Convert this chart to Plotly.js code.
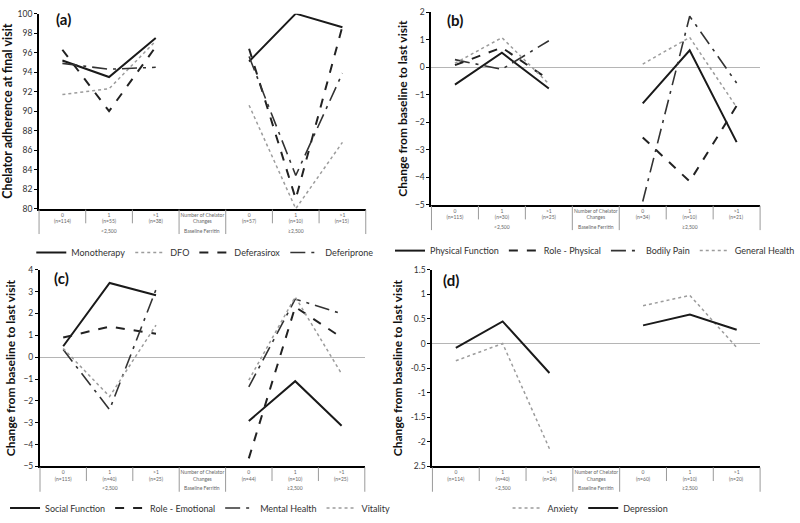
<!DOCTYPE html>
<html><head><meta charset="utf-8">
<script src="https://cdn.plot.ly/plotly-3.0.1.min.js"></script>
<style>html,body{margin:0;padding:0;background:#fff}#chart{width:800px;height:523px}</style>
</head><body><div id="chart"></div>
<script>
// ---------- categories (tick labels) ----------
// (a trailing space keeps repeated labels distinct as categories; it is not drawn)
const catsA = ["0<br>(n=114)","1<br>(n=55)","&gt;1<br>(n=38)","Number of Chelator<br>Changes","0<br>(n=57)","1<br>(n=10)","&gt;1<br>(n=15) "];
const catsB = ["0<br>(n=115)","1<br>(n=30)","&gt;1<br>(n=25)","Number of Chelator<br>Changes","0<br>(n=34)","1<br>(n=10)","&gt;1<br>(n=21) "];
const catsC = ["0<br>(n=115)","1<br>(n=40)","&gt;1<br>(n=25)","Number of Chelator<br>Changes","0<br>(n=44)","1<br>(n=10)","&gt;1<br>(n=25) "];
const catsD = ["0<br>(n=114)","1<br>(n=40)","&gt;1<br>(n=24)","Number of Chelator<br>Changes","0<br>(n=60)","1<br>(n=10)","&gt;1<br>(n=20) "];
const groupLabels = ["&lt;2,500","Baseline Ferritin","≥2,500"];
const groupStart = [0,3,4];
const groupEnd = [2,3,6];

// ---------- panel (a) ----------
const monotherapy = [95.2, 93.5, 97.5, null, 95.1, 100.0, 98.6];
const dfo         = [91.7, 92.3, 97.2, null, 90.6, 80.0, 86.8];
const deferasirox = [96.3, 90.0, 96.6, null, 96.4, 81.0, 98.7];
const deferiprone = [94.9, 94.3, 94.5, null, 95.6, 83.4, 93.9];
// ---------- panel (b) ----------
const physicalFunction = [-0.63, 0.53, -0.77, null, -1.31, 0.62, -2.72];
const rolePhysical     = [0.08, 0.72, -0.45, null, -2.55, -4.15, -1.40];
const bodilyPain       = [0.28, -0.07, 0.97, null, -4.88, 1.86, -0.57];
const generalHealth    = [0.15, 1.08, -0.60, null, 0.12, 1.09, -1.45];
// ---------- panel (c) ----------
const socialFunction = [0.50, 3.40, 2.84, null, -2.92, -1.10, -3.14];
const roleEmotional  = [0.90, 1.40, 1.07, null, -4.63, 2.30, 0.90];
const mentalHealth   = [0.35, -2.40, 3.10, null, -1.36, 2.66, 1.99];
const vitality       = [0.40, -1.80, 1.47, null, -1.05, 2.76, -0.76];
// ---------- panel (d) ----------
const anxiety    = [-0.35, 0.00, -2.14, null, 0.77, 0.98, -0.08];
const depression = [-0.09, 0.45, -0.60, null, 0.37, 0.59, 0.28];
const dTickVals = [1.5, 1, 0.5, 0, -0.5, -1, -1.5, -2, -2.5];
const dTickText = ["1.5","1","0.5","0","-0.5","-1","-1.5","-2","2.5"];

const FONT = "Lato, 'Open Sans', sans-serif";
const S = {
  solid:  {color:'#1a1a1a', width:2,   dash:'solid'},
  dot:    {color:'#9c9c9c', width:1.5, dash:'dot'},
  dash:   {color:'#222222', width:2,   dash:'dash'},
  dashdot:{color:'#333333', width:1.6, dash:'longdashdot'}
};

const panels = [
  {id:'', cats:catsA, label:'(a)', title:'Chelator adherence at final visit', titleSize:12.5,
   xd:[41/800, 384/800], yd:[1-214/523, 1-14/523], range:[80,100], dtick:2, zero:false,
   labelPos:[67,19], legendPos:[215,259],
   series:[['Monotherapy',monotherapy,S.solid],['DFO',dfo,S.dot],['Deferasirox',deferasirox,S.dash],['Deferiprone',deferiprone,S.dashdot]]},
  {id:'2', cats:catsB, label:'(b)', title:'Change from baseline to last visit', titleSize:12,
   xd:[453/800, 798/800], yd:[1-210/523, 1-12.7/523], range:[-5,2], dtick:1, zero:true,
   labelPos:[478,20], legendPos:[625,257],
   series:[['Physical Function',physicalFunction,S.solid],['Role - Physical',rolePhysical,S.dash],['Bodily Pain',bodilyPain,S.dashdot],['General Health',generalHealth,S.dot]]},
  {id:'3', cats:catsC, label:'(c)', title:'Change from baseline to last visit', titleSize:12,
   xd:[42/800, 383/800], yd:[1-478.3/523, 1-276.7/523], range:[-5,4], dtick:1, zero:true,
   labelPos:[65,285], legendPos:[210,521],
   series:[['Social Function',socialFunction,S.solid],['Role - Emotional',roleEmotional,S.dash],['Mental Health',mentalHealth,S.dashdot],['Vitality',vitality,S.dot]]},
  {id:'4', cats:catsD, label:'(d)', title:'Change from baseline to last visit', titleSize:12,
   xd:[454/800, 798/800], yd:[1-478.3/523, 1-276.7/523], range:[-2.5,1.5], dtick:0.5, zero:true,
   tickvals:dTickVals, ticktext:dTickText,
   labelPos:[473,287], legendPos:[620,521],
   series:[['Anxiety',anxiety,S.dot],['Depression',depression,S.solid]]}
];

const data = [];
const layout = {
  width:800, height:523, margin:{l:0,r:0,t:0,b:0},
  paper_bgcolor:'#fff', plot_bgcolor:'#fff',
  font:{family:FONT, color:'#333'},
  showlegend:true, annotations:[], shapes:[]
};

panels.forEach((p, pi) => {
  const xa = 'xaxis' + p.id, ya = 'yaxis' + p.id;
  const xr = 'x' + p.id, yr = 'y' + p.id;
  const lg = 'legend' + p.id;
  p.series.forEach(([name, vals, st]) => {
    data.push({type:'scatter', mode:'lines', name:name, x:p.cats, y:vals,
      xaxis:xr, yaxis:yr, legend:lg, connectgaps:false,
      line:{color:st.color, width:st.width, dash:st.dash}, hoverinfo:'skip'});
  });
  layout[xa] = {domain:p.xd, anchor:yr, type:'category', categoryorder:'array', categoryarray:p.cats,
    range:[-0.5, p.cats.length-0.5], showline:true, linecolor:'#000', linewidth:2,
    ticks:'', tickangle:0, tickfont:{size:5, color:'#666', family:FONT},
    showgrid:false, zeroline:false, fixedrange:true};
  const yAx = {domain:p.yd, anchor:xr, range:p.range, dtick:p.dtick, tick0:p.range[0],
    showline:true, linecolor:'#000', linewidth:2, ticks:'outside', ticklen:3, tickcolor:'#000',
    tickfont:{size:8.5, color:'#333', family:FONT}, showgrid:false,
    zeroline:p.zero, zerolinecolor:'#b5b5b5', zerolinewidth:1, fixedrange:true,
    title:{text:p.title, font:{size:p.titleSize, color:'#111', family:FONT, weight:'bold'}, standoff:5}};
  if (p.tickvals) { yAx.tickmode='array'; yAx.tickvals=p.tickvals; yAx.ticktext=p.ticktext; }
  layout[ya] = yAx;
  layout[lg] = {orientation:'h', x:p.legendPos[0]/800, y:1-p.legendPos[1]/523, xanchor:'center', yanchor:'middle',
    font:{size:9, color:'#333', family:FONT}, bgcolor:'rgba(0,0,0,0)', itemwidth:30, tracegroupgap:0};
  // panel label
  layout.annotations.push({text:'<b>'+p.label+'</b>', xref:'paper', yref:'paper',
    x:p.labelPos[0]/800, y:1-p.labelPos[1]/523, xanchor:'center', yanchor:'middle', showarrow:false,
    font:{size:15, color:'#111', family:FONT}});
  // table-like category dividers below the axis
  const n = p.cats.length;
  const w = (p.xd[1]-p.xd[0]) / n;
  const longB = new Set();
  groupStart.forEach(s => longB.add(s)); groupEnd.forEach(e => longB.add(e+1));
  for (let k = 0; k <= n; k++) {
    const len = longB.has(k) ? 26 : 15;
    layout.shapes.push({type:'line', xref:'paper', yref:'paper',
      x0:p.xd[0]+k*w, x1:p.xd[0]+k*w, y0:p.yd[0]-1/523, y1:p.yd[0]-len/523,
      line:{color:'#9a9a9a', width:1}});
  }
  groupLabels.forEach((g, gi) => {
    const c = (groupStart[gi] + groupEnd[gi]) / 2 + 0.5;
    layout.annotations.push({text:g, xref:'paper', yref:'paper', x:p.xd[0]+c*w, y:p.yd[0]-22.5/523,
      xanchor:'center', yanchor:'middle', showarrow:false, font:{size:5, color:'#666', family:FONT}});
  });
});

Plotly.newPlot('chart', data, layout, {staticPlot:true, displayModeBar:false});
</script></body></html>
